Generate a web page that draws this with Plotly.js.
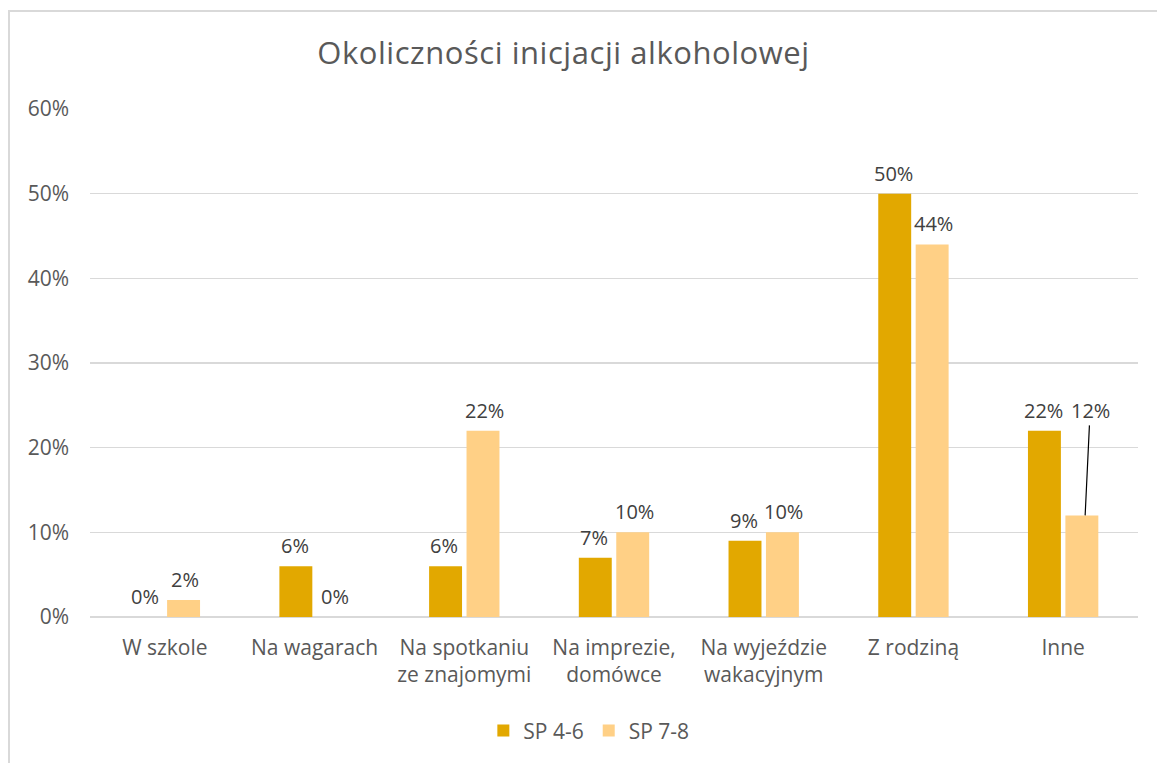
<!DOCTYPE html>
<html><head><meta charset="utf-8">
<script src="https://cdn.plot.ly/plotly-3.0.1.min.js"></script>
<style>
html,body{margin:0;padding:0;background:#fff;overflow:hidden;}
#chart{position:absolute;left:0;top:0;width:1157px;height:763px;}
#frame{position:absolute;left:8px;top:10px;width:1300px;height:900px;border:2px solid #d9d9d9;pointer-events:none;box-sizing:border-box;}
#chart .gtitle{letter-spacing:0.55px;}
</style></head>
<body>
<div id="chart"></div>
<div id="frame"></div>
<script>
const categories = ['W szkole','Na wagarach','Na spotkaniu<br>ze znajomymi','Na imprezie,<br>domówce','Na wyjeździe<br>wakacyjnym','Z rodziną','Inne'];
const seriesNames = ['SP 4-6','SP 7-8'];
const sp46 = [0, 6, 6, 7, 9, 50, 22];
const sp78 = [2, 0, 22, 10, 10, 44, 12];
const yTicks = [0,10,20,30,40,50,60];

const FONT = '"Open Sans", sans-serif';
const txtColor = '#404040';
const axColor = '#595959';
const colors = ['#E2A800','#FFD086'];
const seriesVals = [sp46, sp78];
const shifts = [-20, 20];

// the last SP 7-8 label is moved up with a leader line in the original
const movedIdx = 6;

const traces = seriesVals.map((vals,s)=>({
  type:'bar', name:seriesNames[s], x:categories, y:vals, marker:{color:colors[s]}, hoverinfo:'none'
}));

const annotations = [];
seriesVals.forEach((vals,s)=>{
  vals.forEach((v,i)=>{
    if (s===1 && i===movedIdx) {
      annotations.push({x:categories[i], y:v, xref:'x', yref:'y', xshift:shifts[s]+2,
        text:v+'%', showarrow:true, arrowhead:0, arrowwidth:1.2, arrowcolor:'#000',
        ax:5, ay:-105, font:{size:20,color:txtColor,family:FONT}});
    } else {
      annotations.push({x:categories[i], y:v, xref:'x', yref:'y', xshift:shifts[s],
        text:v+'%', showarrow:false, yanchor:'bottom', yshift:5,
        font:{size:20,color:txtColor,family:FONT}});
    }
  });
});

const layout = {
  width:1157, height:763,
  margin:{l:90, r:19, t:109, b:146},
  paper_bgcolor:'#fff', plot_bgcolor:'#fff',
  font:{family:FONT, color:axColor, size:21},
  title:{text:'Okoliczności inicjacji alkoholowej', font:{size:31, color:axColor, family:FONT}, x:0.487, xanchor:'center', y:0.930, yanchor:'middle'},
  barmode:'group', bargap:0.5, bargroupgap:0.12,
  xaxis:{type:'category', showgrid:false, zeroline:false, showline:false, ticks:'',
         tickfont:{size:21,color:axColor}, ticklabelstandoff:16},
  yaxis:{range:[0,60], tickvals:yTicks, ticktext:yTicks.map(v=>v+'%'), showgrid:true,
         gridcolor:'#d9d9d9', gridwidth:1.5, zeroline:true, zerolinecolor:'#d9d9d9', zerolinewidth:1.5,
         showline:false, ticks:'', tickfont:{size:21,color:axColor}, ticklabelstandoff:20, fixedrange:true},
  legend:{orientation:'h', x:0.476, xanchor:'center', yref:'container', y:0.042, yanchor:'middle',
          font:{size:21,color:axColor}, itemwidth:30, traceorder:'normal'},
  showlegend:true,
  annotations:annotations
};

Plotly.newPlot('chart', traces, layout, {displayModeBar:false, staticPlot:true});
</script>
</body></html>
